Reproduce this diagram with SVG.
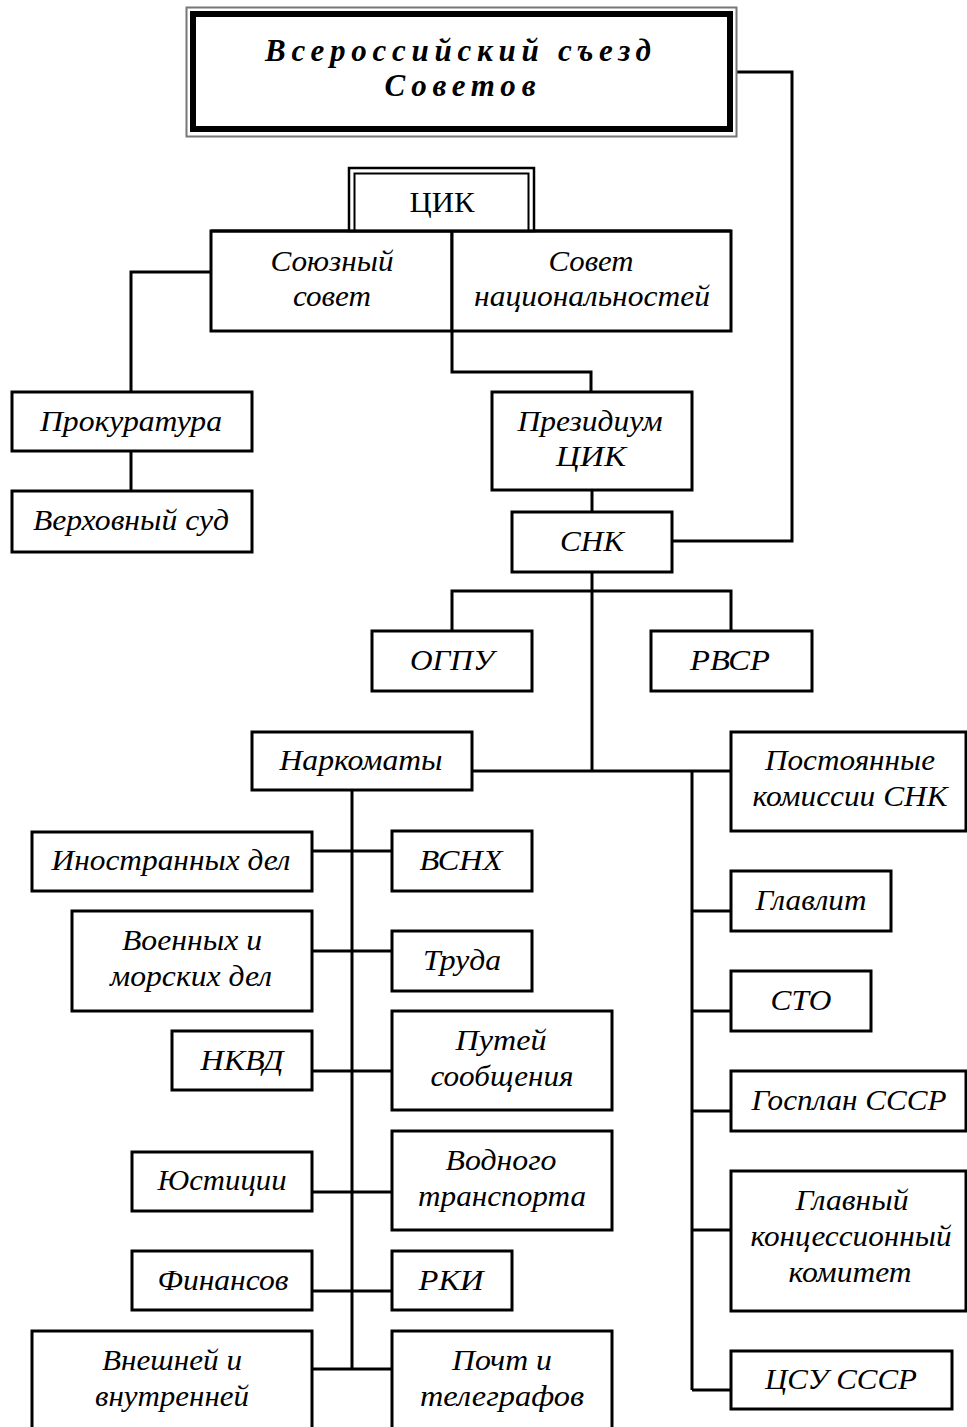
<svg xmlns="http://www.w3.org/2000/svg" width="967" height="1427" viewBox="0 0 967 1427">
<style>
.b{fill:#fff;stroke:#000;stroke-width:3}
.c{fill:none;stroke:#000;stroke-width:3}
.t{font-family:"Liberation Serif","DejaVu Serif",serif;font-style:italic;font-size:29px;fill:#000;text-anchor:middle}
.r{font-family:"Liberation Serif","DejaVu Serif",serif;font-size:30px;fill:#000;text-anchor:middle}
.h{font-family:"Liberation Serif","DejaVu Serif",serif;font-style:italic;font-weight:bold;font-size:31px;fill:#000;text-anchor:middle}
</style>
<rect width="967" height="1427" fill="#fff"/>
<g id="connectors">
<path class="c" d="M731,72 H792 V541 H672"/>
<path class="c" d="M211,272 H131 V392"/>
<path class="c" d="M131,451 V491"/>
<path class="c" d="M452,331 V372 H591 V392"/>
<path class="c" d="M592,490 V512"/>
<path class="c" d="M592,572 V771"/>
<path class="c" d="M452,631 V591 H731 V631"/>
<path class="c" d="M472,771 H731"/>
<path class="c" d="M692,771 V1390"/>
<path class="c" d="M692,911 H731 M692,1011 H731 M692,1111 H731 M692,1230 H731 M692,1390 H731"/>
<path class="c" d="M352,790 V1369"/>
<path class="c" d="M312,851 H392 M312,951 H392 M312,1071 H392 M312,1192 H392 M312,1291 H392 M312,1369 H392"/>
</g>
<g id="sezd">
<rect x="186.5" y="7.5" width="550" height="129" fill="#fff" stroke="#777" stroke-width="2"/>
<rect x="193" y="14" width="537" height="115" fill="#fff" stroke="#000" stroke-width="6"/>
<text class="h" x="458" y="61" textLength="386" lengthAdjust="spacing">Всероссийский съезд</text>
<text class="h" x="460" y="96" textLength="151" lengthAdjust="spacing">Советов</text>
</g>
<g id="soyuz">
<rect class="b" x="211" y="231" width="241" height="100"/>
<text class="t" x="332" y="271" textLength="123" lengthAdjust="spacingAndGlyphs">Союзный</text>
<text class="t" x="332" y="306" textLength="78" lengthAdjust="spacingAndGlyphs">совет</text>
</g>
<g id="nats">
<rect class="b" x="452" y="231" width="279" height="100"/>
<text class="t" x="591" y="271" textLength="85" lengthAdjust="spacingAndGlyphs">Совет</text>
<text class="t" x="592" y="306" textLength="236" lengthAdjust="spacingAndGlyphs">национальностей</text>
</g>
<g id="cik">
<rect x="349" y="168" width="185" height="63" fill="#fff" stroke="#000" stroke-width="2.5"/>
<path d="M354.5,231 V173.5 H528.5 V231" fill="none" stroke="#000" stroke-width="2"/>
<path d="M211,231 H731" stroke="#000" stroke-width="3"/>
<text class="r" x="442" y="212" textLength="65" lengthAdjust="spacingAndGlyphs">ЦИК</text>
</g>
<g id="prokuratura">
<rect class="b" x="12" y="392" width="240" height="59"/>
<text class="t" x="131" y="431" textLength="182" lengthAdjust="spacingAndGlyphs">Прокуратура</text>
</g>
<g id="verkh">
<rect class="b" x="12" y="491" width="240" height="61"/>
<text class="t" x="131" y="530" textLength="196" lengthAdjust="spacingAndGlyphs">Верховный суд</text>
</g>
<g id="prezidium">
<rect class="b" x="492" y="392" width="200" height="98"/>
<text class="t" x="590" y="431" textLength="145" lengthAdjust="spacingAndGlyphs">Президиум</text>
<text class="t" x="591" y="466" textLength="70" lengthAdjust="spacingAndGlyphs">ЦИК</text>
</g>
<g id="snk">
<rect class="b" x="512" y="512" width="160" height="60"/>
<text class="t" x="592" y="551" textLength="64" lengthAdjust="spacingAndGlyphs">СНК</text>
</g>
<g id="ogpu">
<rect class="b" x="372" y="631" width="160" height="60"/>
<text class="t" x="452" y="670" textLength="84" lengthAdjust="spacingAndGlyphs">ОГПУ</text>
</g>
<g id="rvsr">
<rect class="b" x="651" y="631" width="161" height="60"/>
<text class="t" x="730" y="670" textLength="80" lengthAdjust="spacingAndGlyphs">РВСР</text>
</g>
<g id="narkomaty">
<rect class="b" x="252" y="732" width="220" height="58"/>
<text class="t" x="361" y="770" textLength="163" lengthAdjust="spacingAndGlyphs">Наркоматы</text>
</g>
<g id="postoyannye">
<rect class="b" x="731" y="732" width="235" height="99"/>
<text class="t" x="850" y="770" textLength="170" lengthAdjust="spacingAndGlyphs">Постоянные</text>
<text class="t" x="850" y="806" textLength="195" lengthAdjust="spacingAndGlyphs">комиссии СНК</text>
</g>
<g id="inostr">
<rect class="b" x="32" y="832" width="280" height="59"/>
<text class="t" x="171" y="870" textLength="239" lengthAdjust="spacingAndGlyphs">Иностранных дел</text>
</g>
<g id="voen">
<rect class="b" x="72" y="911" width="240" height="100"/>
<text class="t" x="192" y="950" textLength="140" lengthAdjust="spacingAndGlyphs">Военных и</text>
<text class="t" x="191" y="986" textLength="162" lengthAdjust="spacingAndGlyphs">морских дел</text>
</g>
<g id="nkvd">
<rect class="b" x="172" y="1031" width="140" height="59"/>
<text class="t" x="242" y="1070" textLength="83" lengthAdjust="spacingAndGlyphs">НКВД</text>
</g>
<g id="yustitsii">
<rect class="b" x="132" y="1152" width="180" height="59"/>
<text class="t" x="222" y="1190" textLength="129" lengthAdjust="spacingAndGlyphs">Юстиции</text>
</g>
<g id="finansov">
<rect class="b" x="132" y="1251" width="180" height="59"/>
<text class="t" x="223" y="1290" textLength="131" lengthAdjust="spacingAndGlyphs">Финансов</text>
</g>
<g id="vneshnei">
<rect class="b" x="32" y="1331" width="280" height="120"/>
<text class="t" x="172" y="1370" textLength="140" lengthAdjust="spacingAndGlyphs">Внешней и</text>
<text class="t" x="172" y="1406" textLength="154" lengthAdjust="spacingAndGlyphs">внутренней</text>
</g>
<g id="vsnh">
<rect class="b" x="392" y="831" width="140" height="60"/>
<text class="t" x="461" y="870" textLength="83" lengthAdjust="spacingAndGlyphs">ВСНХ</text>
</g>
<g id="truda">
<rect class="b" x="392" y="931" width="140" height="60"/>
<text class="t" x="462" y="970" textLength="78" lengthAdjust="spacingAndGlyphs">Труда</text>
</g>
<g id="putei">
<rect class="b" x="392" y="1011" width="220" height="99"/>
<text class="t" x="501" y="1050" textLength="91" lengthAdjust="spacingAndGlyphs">Путей</text>
<text class="t" x="502" y="1086" textLength="143" lengthAdjust="spacingAndGlyphs">сообщения</text>
</g>
<g id="vodnogo">
<rect class="b" x="392" y="1131" width="220" height="99"/>
<text class="t" x="501" y="1170" textLength="111" lengthAdjust="spacingAndGlyphs">Водного</text>
<text class="t" x="502" y="1206" textLength="168" lengthAdjust="spacingAndGlyphs">транспорта</text>
</g>
<g id="rki">
<rect class="b" x="392" y="1251" width="120" height="59"/>
<text class="t" x="451" y="1290" textLength="65" lengthAdjust="spacingAndGlyphs">РКИ</text>
</g>
<g id="pocht">
<rect class="b" x="392" y="1331" width="220" height="120"/>
<text class="t" x="502" y="1370" textLength="100" lengthAdjust="spacingAndGlyphs">Почт и</text>
<text class="t" x="502" y="1406" textLength="164" lengthAdjust="spacingAndGlyphs">телеграфов</text>
</g>
<g id="glavlit">
<rect class="b" x="731" y="871" width="160" height="60"/>
<text class="t" x="811" y="910" textLength="111" lengthAdjust="spacingAndGlyphs">Главлит</text>
</g>
<g id="sto">
<rect class="b" x="731" y="971" width="140" height="60"/>
<text class="t" x="801" y="1010" textLength="61" lengthAdjust="spacingAndGlyphs">СТО</text>
</g>
<g id="gosplan">
<rect class="b" x="731" y="1071" width="235" height="60"/>
<text class="t" x="849" y="1110" textLength="195" lengthAdjust="spacingAndGlyphs">Госплан СССР</text>
</g>
<g id="glavkonts">
<rect class="b" x="731" y="1171" width="235" height="140"/>
<text class="t" x="852" y="1210" textLength="113" lengthAdjust="spacingAndGlyphs">Главный</text>
<text class="t" x="851" y="1246" textLength="201" lengthAdjust="spacingAndGlyphs">концессионный</text>
<text class="t" x="850" y="1282" textLength="123" lengthAdjust="spacingAndGlyphs">комитет</text>
</g>
<g id="tsu">
<rect class="b" x="731" y="1351" width="221" height="58"/>
<text class="t" x="841" y="1389" textLength="152" lengthAdjust="spacingAndGlyphs">ЦСУ СССР</text>
</g>
</svg>
